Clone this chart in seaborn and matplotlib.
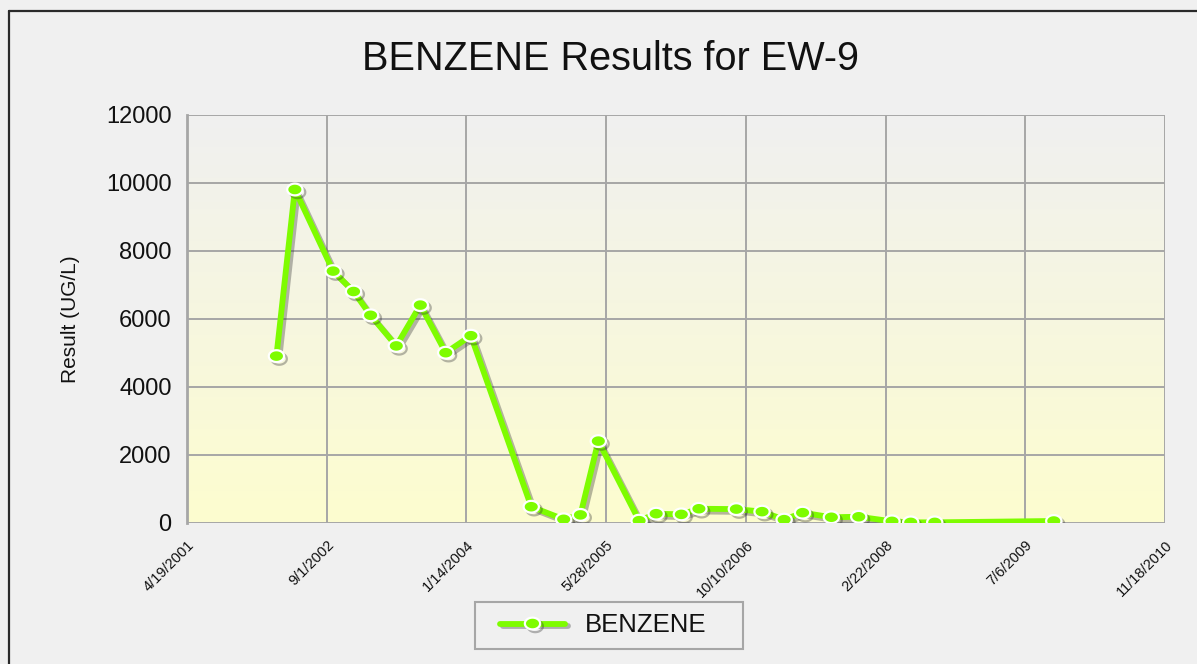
import numpy as np
import pandas as pd
import matplotlib
matplotlib.use("Agg")
import matplotlib.pyplot as plt
import matplotlib.patheffects as pe
from matplotlib.path import Path
from matplotlib.lines import Line2D
from matplotlib.patches import Rectangle
import seaborn as sns

# ---- data ----
dates = ['2002-03-05', '2002-05-10', '2002-09-24', '2002-12-06', '2003-02-05',
         '2003-05-08', '2003-08-02', '2003-11-01', '2004-01-30', '2004-09-02',
         '2004-12-27', '2005-02-25', '2005-04-30', '2005-09-23', '2005-11-23',
         '2006-02-21', '2006-04-25', '2006-09-06', '2006-12-07', '2007-02-24',
         '2007-05-01', '2007-08-12', '2007-11-18', '2008-03-16', '2008-05-22',
         '2008-08-16', '2009-10-16']
values = [4900, 9800, 7400, 6800, 6100, 5200, 6400, 5000, 5500, 470,
          100, 230, 2400, 60, 265, 245, 410, 400, 325, 90,
          295, 160, 175, 40, 10, 10, 50]
series_name = 'BENZENE'
tick_dates = ['2001-04-19', '2002-09-01', '2004-01-14', '2005-05-28',
              '2006-10-10', '2008-02-22', '2009-07-06', '2010-11-18']
tick_labels = ['4/19/2001', '9/1/2002', '1/14/2004', '5/28/2005',
               '10/10/2006', '2/22/2008', '7/6/2009', '11/18/2010']
y_ticks = [0, 2000, 4000, 6000, 8000, 10000, 12000]
title = 'BENZENE Results for EW-9'
ylabel = 'Result (UG/L)'

df = pd.DataFrame({'date': pd.to_datetime(dates), 'value': values})

sns.set_theme(style='white')
plt.rcParams['font.family'] = ['Liberation Sans', 'DejaVu Sans']

W, H = 1197, 664
fig = plt.figure(figsize=(W / 100, H / 100), dpi=100, facecolor='#f0f0f0')

left, right, top, bottom = 187, 1165, 114.7, 522.7
pos = [left / W, 1 - bottom / H, (right - left) / W, (bottom - top) / H]

# gradient background axes
bg = fig.add_axes(pos, zorder=0)
grad_top = np.array([240, 240, 240]) / 255
grad_bot = np.array([253, 253, 207]) / 255
t = np.linspace(0, 1, 256)[:, None]
img = (grad_top[None, :] * (1 - t) + grad_bot[None, :] * t)[:, None, :]
bg.imshow(img, aspect='auto', extent=[0, 1, 0, 1], origin='upper')
bg.set_axis_off()

ax = fig.add_axes(pos, zorder=1)
ax.set_facecolor('none')

theta = np.linspace(0, 2 * np.pi, 60)
ell = Path(np.column_stack([1.3 * np.cos(theta), np.sin(theta)]), closed=True)

green = '#7efc00'
shadow = [pe.SimpleLineShadow(offset=(2, -2), shadow_color='#333333', alpha=0.35),
          pe.Normal()]

sns.lineplot(data=df, x='date', y='value', ax=ax, color=green,
             linewidth=4.2, marker=ell, markersize=11,
             markerfacecolor=green, markeredgecolor='white',
             markeredgewidth=1.6, legend=False, zorder=5)
line = ax.get_lines()[0]
line.set_path_effects(shadow)

ax.set_xlim(pd.Timestamp(tick_dates[0]), pd.Timestamp(tick_dates[-1]))
ax.set_ylim(0, 12000)
ax.set_xticks(pd.to_datetime(tick_dates))
ax.set_xticklabels(tick_labels, rotation=45, ha='right', va='top',
                   rotation_mode='anchor', fontsize=10.5)
ax.set_yticks(y_ticks)
ax.set_yticklabels([str(v) for v in y_ticks], fontsize=17)
ax.set_xlabel('')
ax.set_ylabel('')

ax.grid(True, color='#a6a6a6', linewidth=1.4, zorder=1)
ax.set_axisbelow(True)
for s in ['top', 'right', 'bottom']:
    ax.spines[s].set_visible(False)
ax.spines['left'].set_color('#a6a6a6')
ax.spines['left'].set_linewidth(2)
ax.tick_params(axis='both', which='both', direction='out', length=6,
               width=1.4, color='#a6a6a6', labelcolor='#111111')
ax.tick_params(axis='y', pad=5)
ax.tick_params(axis='x', pad=5)

fig.text(610 / W, 1 - 59 / H, title, ha='center', va='center',
         fontsize=28.5, color='#111111')
fig.text(70 / W, 1 - 318.7 / H, ylabel, ha='center', va='center',
         rotation=90, fontsize=15, color='#111111')

# legend frame drawn as a box, legend entries placed inside
fig.add_artist(Rectangle((475 / W, 1 - 649.3 / H), (743 - 475) / W, (649.3 - 601.7) / H,
                         transform=fig.transFigure, facecolor='#f0f0f0',
                         edgecolor='#a6a6a6', linewidth=1.5, zorder=2))
handle = Line2D([], [], color=green, linewidth=4.2, marker=ell, markersize=11,
                markerfacecolor=green, markeredgecolor='white', markeredgewidth=1.6,
                path_effects=shadow)
fs = 18.5
leg = fig.legend([handle], [series_name], loc='center left',
                 bbox_to_anchor=(500 / W, 1 - 625.5 / H), frameon=False,
                 fontsize=fs, handlelength=65 / (fs * 100 / 72),
                 handletextpad=20 / (fs * 100 / 72), borderpad=0, borderaxespad=0)
leg.set_zorder(3)
for txt in leg.get_texts():
    txt.set_color('#111111')

# outer border (top and left)
fig.add_artist(Line2D([8.5 / W, 1], [1 - 10.5 / H, 1 - 10.5 / H], transform=fig.transFigure,
                      color='#2a2a2a', linewidth=1.6))
fig.add_artist(Line2D([8.5 / W, 8.5 / W], [0, 1 - 10.5 / H], transform=fig.transFigure,
                      color='#2a2a2a', linewidth=1.6))

fig.savefig('out.png', dpi=100, facecolor=fig.get_facecolor())
